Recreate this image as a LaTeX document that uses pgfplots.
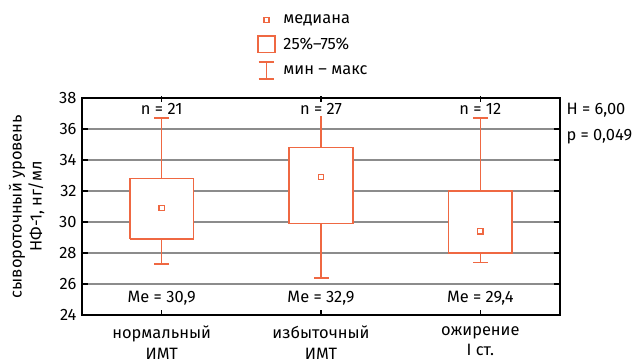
\documentclass[border=0pt]{standalone}
\usepackage{fontspec}
\setmainfont{Fira Sans}
\usepackage{pgfplots}
\pgfplotsset{compat=1.18}
\definecolor{boxc}{HTML}{EF6842}
\definecolor{gridc}{HTML}{8C8C8C}
\begin{document}
\begin{tikzpicture}
\begin{axis}[
  scale only axis,
  width=478bp, height=217bp,
  font=\fontsize{16.5}{20}\selectfont,
  xmin=-0.5, xmax=2.5,
  ymin=24, ymax=38,
  ytick={24,26,28,30,32,34,36,38},
  xtick={0,1,2},
  xticklabels={нормальный\\ИМТ, избыточный\\ИМТ, ожирение\\I ст.},
  xticklabel style={align=center, inner sep=0pt, yshift=-11bp,
    font=\fontsize{16.5}{20.5}\selectfont},
  yticklabel style={xshift=-2bp},
  /pgf/number format/assume math mode=true,
  major tick length=0pt,
  axis line style={black, line width=1.2pt},
  ylabel={сывороточный уровень\\НФ-1, нг/мл},
  ylabel style={align=center, yshift=8bp},
  legend style={draw=none, fill=none, at={(axis description cs:0.36,1)}, anchor=south west,
    yshift=16bp, font=\fontsize{16.5}{20}\selectfont, row sep=8bp,
    legend cell align=left},
  clip=false,
  unbounded coords=jump,
]
% legend entries
\addlegendimage{legend image code/.code={
  \draw[boxc, line width=1.5pt] (0.21cm,-0.09cm) rectangle (0.39cm,0.09cm);
  \path (0cm,0cm) (0.82cm,0cm);}}
\addlegendentry{медиана}
\addlegendimage{legend image code/.code={
  \draw[boxc, line width=1.5pt] (0cm,-0.29cm) rectangle (0.6cm,0.29cm);
  \path (0.82cm,0cm);}}
\addlegendentry{25\%–75\%}
\addlegendimage{legend image code/.code={
  \draw[boxc, line width=1.5pt] (0.02cm,-0.3cm) -- (0.58cm,-0.3cm) (0.3cm,-0.3cm) -- (0.3cm,0.3cm) (0.02cm,0.3cm) -- (0.58cm,0.3cm);
  \path (0cm,0cm) (0.82cm,0cm);}}
\addlegendentry{мин – макс}

% horizontal grid lines
\addplot[gridc, line width=1.5pt, forget plot] coordinates {
  (-0.5,26) (2.5,26) (nan,nan)
  (-0.5,28) (2.5,28) (nan,nan)
  (-0.5,30) (2.5,30) (nan,nan)
  (-0.5,32) (2.5,32) (nan,nan)
  (-0.5,34) (2.5,34) (nan,nan)
  (-0.5,36) (2.5,36)
};
% tick marks on the inner side of the frame
\addplot[black, line width=1.2pt, forget plot] coordinates {
  (-0.5,26) (-0.462,26) (nan,nan) (2.462,26) (2.5,26) (nan,nan)
  (-0.5,28) (-0.462,28) (nan,nan) (2.462,28) (2.5,28) (nan,nan)
  (-0.5,30) (-0.462,30) (nan,nan) (2.462,30) (2.5,30) (nan,nan)
  (-0.5,32) (-0.462,32) (nan,nan) (2.462,32) (2.5,32) (nan,nan)
  (-0.5,34) (-0.462,34) (nan,nan) (2.462,34) (2.5,34) (nan,nan)
  (-0.5,36) (-0.462,36) (nan,nan) (2.462,36) (2.5,36) (nan,nan)
  (0,24) (0,24.35) (nan,nan) (0,37.75) (0,38.15) (nan,nan)
  (1,24) (1,24.35) (nan,nan) (1,37.75) (1,38.15) (nan,nan)
  (2,24) (2,24.35) (nan,nan) (2,37.75) (2,38.15)
};

% upper whiskers: from box top (q3) up to the maximum
\addplot[draw=none, forget plot, mark=none,
  error bars/.cd, y dir=plus, y explicit,
  error mark=-, error mark options={rotate=90, boxc, line width=1.5pt, mark size=7.5bp},
  error bar style={boxc, line width=1.5pt}]
  table[x=x, y=q3, y error plus=up] {
  x q3   up
  0 32.8 3.9
  1 34.8 2.2
  2 32.0 4.7
  };
% lower whiskers: from box bottom (q1) down to the minimum
\addplot[draw=none, forget plot, mark=none,
  error bars/.cd, y dir=minus, y explicit,
  error mark=-, error mark options={rotate=90, boxc, line width=1.5pt, mark size=7.5bp},
  error bar style={boxc, line width=1.5pt}]
  table[x=x, y=q1, y error minus=dn] {
  x q1   dn
  0 28.9 1.6
  1 29.9 3.5
  2 28.0 0.6
  };

% interquartile boxes
\addplot[boxc, line width=1.5pt, forget plot, fill=white] coordinates {
  (-0.2,28.9) (0.2,28.9) (0.2,32.8) (-0.2,32.8) (-0.2,28.9) (nan,nan)
  (0.8,29.9) (1.2,29.9) (1.2,34.8) (0.8,34.8) (0.8,29.9) (nan,nan)
  (1.8,28.0) (2.2,28.0) (2.2,32.0) (1.8,32.0) (1.8,28.0)
};

% medians
\addplot[only marks, mark=square, mark size=2.6bp, boxc, line width=1.4pt, forget plot]
  coordinates {(0,30.9) (1,32.9) (2,29.4)};

% group sizes and medians as text
\node[fill=white, inner sep=1pt] at (axis cs:0,37.3) {n = 21};
\node[fill=white, inner sep=1pt] at (axis cs:1,37.3) {n = 27};
\node[fill=white, inner sep=1pt] at (axis cs:2,37.3) {n = 12};
\node[fill=white, inner sep=1pt] at (axis cs:0,25.1) {Me = 30,9};
\node[fill=white, inner sep=1pt] at (axis cs:1,25.1) {Me = 32,9};
\node[fill=white, inner sep=1pt] at (axis cs:2,25.1) {Me = 29,4};

% test statistic
\node[anchor=west] at ([xshift=3bp,yshift=-12bp]rel axis cs:1,1) {H = 6,00};
\node[anchor=west] at ([xshift=3bp,yshift=-39bp]rel axis cs:1,1) {p = 0,049};

\coordinate (bl) at (rel axis cs:0,0);
\coordinate (tr) at (rel axis cs:1,1);
\end{axis}
% fixed frame around the plot
\pgfresetboundingbox
\path ([xshift=-82bp,yshift=-48bp]bl) rectangle ([xshift=84bp,yshift=98bp]tr);
\end{tikzpicture}
\end{document}
